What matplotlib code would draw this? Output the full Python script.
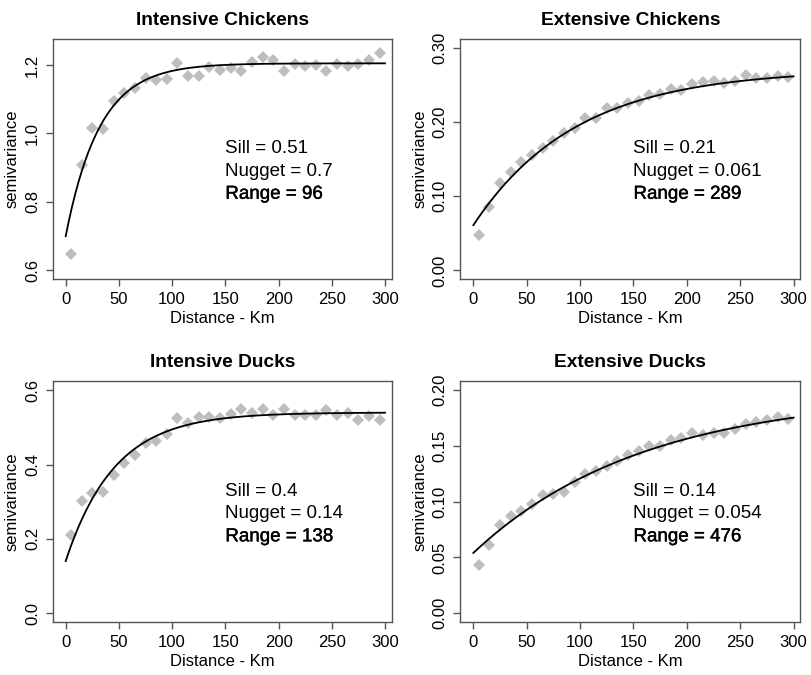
import numpy as np
import matplotlib
matplotlib.use("Agg")
import matplotlib.pyplot as plt
import matplotlib.patheffects as pe

plt.rcParams['font.family'] = ['Liberation Sans', 'DejaVu Sans']

titles = ["Intensive Chickens", "Extensive Chickens", "Intensive Ducks", "Extensive Ducks"]
distance = [5, 15, 25, 35, 45, 55, 65, 75, 85, 95, 105, 115, 125, 135, 145,
            155, 165, 175, 185, 195, 205, 215, 225, 235, 245, 255, 265, 275, 285, 295]

int_chickens = [0.649, 0.908, 1.015, 1.013, 1.095, 1.119, 1.134, 1.163, 1.155, 1.159,
                1.207, 1.167, 1.167, 1.193, 1.185, 1.190, 1.184, 1.210, 1.222, 1.215,
                1.184, 1.204, 1.198, 1.200, 1.184, 1.204, 1.198, 1.202, 1.215, 1.236]
ext_chickens = [0.048, 0.085, 0.118, 0.133, 0.146, 0.155, 0.165, 0.174, 0.185, 0.192,
                0.205, 0.206, 0.219, 0.219, 0.226, 0.229, 0.237, 0.238, 0.245, 0.243,
                0.251, 0.254, 0.256, 0.253, 0.255, 0.264, 0.260, 0.260, 0.262, 0.261]
int_ducks = [0.211, 0.301, 0.324, 0.327, 0.371, 0.404, 0.426, 0.458, 0.464, 0.483,
             0.526, 0.511, 0.528, 0.528, 0.524, 0.535, 0.549, 0.538, 0.550, 0.533,
             0.550, 0.533, 0.533, 0.533, 0.547, 0.533, 0.538, 0.520, 0.530, 0.520]
ext_ducks = [0.0434, 0.0614, 0.0794, 0.0869, 0.0914, 0.098, 0.1058, 0.1073, 0.1091, 0.1178,
             0.125, 0.1277, 0.1316, 0.1361, 0.1418, 0.1451, 0.150, 0.150, 0.155, 0.1571,
             0.1613, 0.1598, 0.1613, 0.1619, 0.1655, 0.170, 0.1715, 0.1736, 0.176, 0.1745]

# fitted exponential variogram model parameters (as labelled, unrounded estimates)
sills = [0.505, 0.21, 0.40, 0.143]
nuggets = [0.7, 0.061, 0.14, 0.054]
ranges = [96, 289, 138, 476]
sill_labels = ["0.51", "0.21", "0.4", "0.14"]
nugget_labels = ["0.7", "0.061", "0.14", "0.054"]
range_labels = ["96", "289", "138", "476"]

ylims = [(0.574, 1.276), (-0.012, 0.312), (-0.024, 0.624), (-0.008, 0.208)]
yticks = [[0.6, 0.8, 1.0, 1.2], [0.0, 0.1, 0.2, 0.3], [0.0, 0.2, 0.4, 0.6],
          [0.0, 0.05, 0.10, 0.15, 0.20]]
yticklabels = [["0.6", "0.8", "1.0", "1.2"], ["0.00", "0.10", "0.20", "0.30"],
               ["0.0", "0.2", "0.4", "0.6"], ["0.00", "0.05", "0.10", "0.15", "0.20"]]
xticks = [0, 50, 100, 150, 200, 250, 300]

series = [int_chickens, ext_chickens, int_ducks, ext_ducks]

fig = plt.figure(figsize=(8.12, 6.75), dpi=100)
positions = [
    [0.0649, 0.5862, 0.4175, 0.356],
    [0.5669, 0.5862, 0.4187, 0.356],
    [0.0649, 0.0785, 0.4175, 0.3566],
    [0.5669, 0.0785, 0.4187, 0.3566],
]
box_col = "#555555"
h = np.linspace(0, 300, 301)
for i in range(4):
    ax = fig.add_axes(positions[i])
    ax.plot(distance, series[i], linestyle="none", marker="D", markersize=6.0,
            color="#BEBEBE", markeredgewidth=0, zorder=2)
    a = ranges[i] / 3.0
    model = nuggets[i] + sills[i] * (1 - np.exp(-h / a))
    ax.plot(h, model, color="black", lw=1.3, zorder=3)
    ax.set_xlim(-12.2, 306.3)
    ax.set_ylim(*ylims[i])
    ax.set_xticks(xticks)
    ax.set_xticklabels([str(t) for t in xticks])
    ax.set_yticks(yticks[i])
    ax.set_yticklabels(yticklabels[i], rotation=90, va="center")
    for s in ax.spines.values():
        s.set_color(box_col)
        s.set_linewidth(1.0)
    ax.tick_params(axis="both", direction="out", length=5, width=1.0, color=box_col,
                   labelsize=12, pad=4)
    ax.set_xlabel("Distance - Km", fontsize=12, labelpad=3)
    ax.set_ylabel("semivariance", fontsize=12, labelpad=4)
    ax.set_title(titles[i], fontsize=13.8, fontweight="bold", pad=10)
    xfrac = (150 + 12.2) / (306.3 + 12.2)
    ax.text(xfrac, 0.543, "Sill = " + sill_labels[i], transform=ax.transAxes,
            fontsize=13.5, va="center", ha="left")
    ax.text(xfrac, 0.449, "Nugget = " + nugget_labels[i], transform=ax.transAxes,
            fontsize=13.5, va="center", ha="left")
    ax.text(xfrac, 0.354, "Range = " + range_labels[i], transform=ax.transAxes,
            fontsize=13.5, va="center", ha="left",
            path_effects=[pe.withStroke(linewidth=0.3, foreground="black")])

fig.savefig("out.png", dpi=100)
